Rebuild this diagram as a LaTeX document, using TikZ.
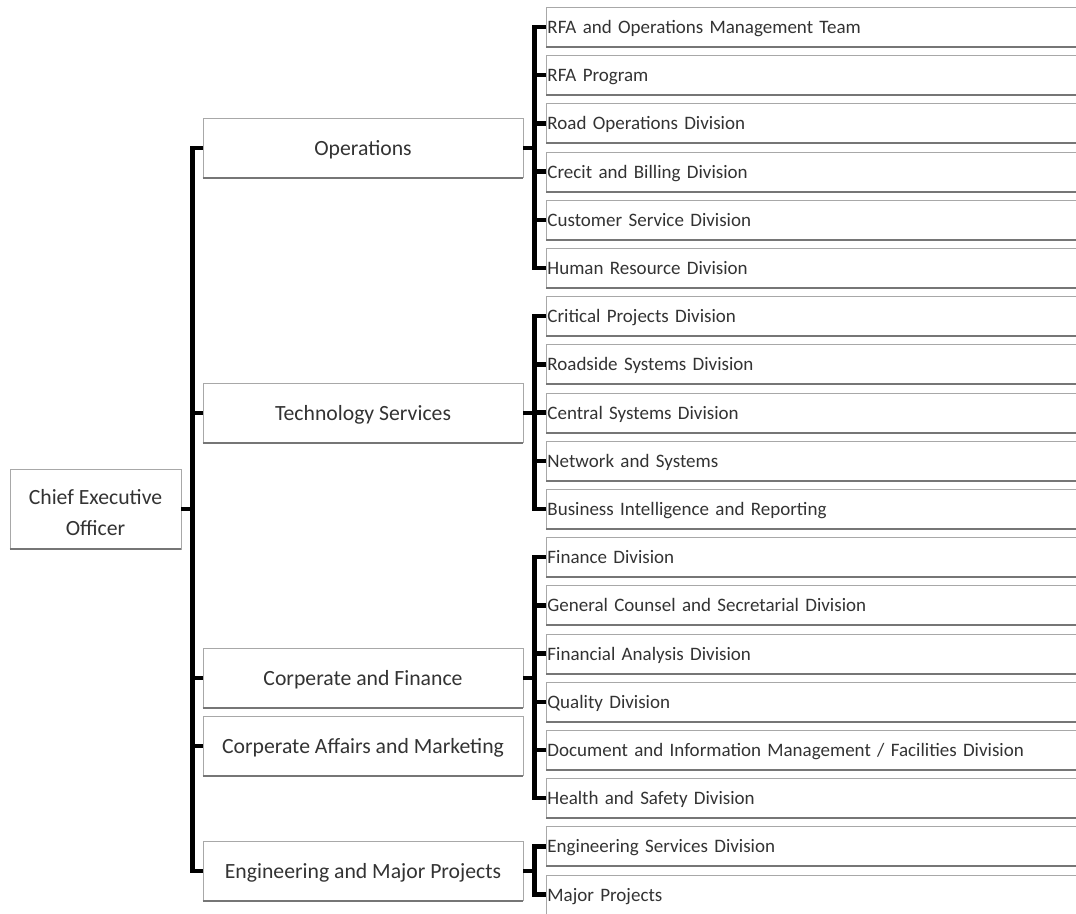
\documentclass[tikz,border=0pt]{standalone}
\usepackage{fontspec}
\setmainfont{Carlito}
\usetikzlibrary{positioning}
\definecolor{boxgray}{HTML}{A8A8A8}
\definecolor{shadegray}{HTML}{767676}
\definecolor{inkgray}{HTML}{333333}
\tikzset{unit/.style={draw=boxgray, line width=0.9pt, fill=white, text=inkgray, minimum width=320pt, minimum height=59pt, inner sep=0pt, text height=18.5pt, text depth=4pt, align=center, font=\fontsize{21.7}{31}\selectfont},
         dept/.style={draw=boxgray, line width=0.9pt, fill=white, text=inkgray, anchor=west, text width=545pt, minimum height=39pt, inner xsep=1pt, inner ysep=0pt, text height=16pt, text depth=3pt, align=left, font=\fontsize{19}{22}\selectfont},
         link/.style={black, line width=4.5pt},
         ledge/.style={draw=shadegray, line width=2pt}}

\begin{document}
\begin{tikzpicture}[x=1pt,y=-1pt]
       \useasboundingbox (0,0) rectangle (1076,913);
       % chief and the five units
       \node[unit, minimum width=171pt, minimum height=80pt, text height=52pt, text depth=0pt] (ceo) at (95.5,509) {Chief Executive\\Officer};
       \node[unit] (ops)  at (363,148) {Operations};
       \node[unit] (tech) at (363,413) {Technology Services};
       \node[unit] (fin)  at (363,678) {Corperate and Finance};
       \node[unit] (mkt)  at (363,746) {Corperate Affairs and Marketing};
       \node[unit] (eng)  at (363,871) {Engineering and Major Projects};
       % divisions, one per row
       \foreach \t [count=\i] in {RFA and Operations Management Team, RFA Program, Road Operations Division,
              Crecit and Billing Division, Customer Service Division, Human Resource Division,
              Critical Projects Division, Roadside Systems Division, Central Systems Division,
              Network and Systems, Business Intelligence and Reporting,
              Finance Division, General Counsel and Secretarial Division, Financial Analysis Division,
              Quality Division, Document and Information Management / Facilities Division,
              Health and Safety Division, Engineering Services Division, Major Projects}
         \node[dept] (d\i) at (546,{27+48.2*(\i-1)}) {\t};
       \foreach \n in {ceo,ops,tech,fin,mkt,eng}
         \draw[ledge] (\n.south west) -- (\n.south east);
       \foreach \i in {1,...,19}
         \draw[ledge] (d\i.south west) -- (d\i.south east);
       % brackets
       \foreach \n in {ops,tech,fin,mkt,eng}
         \draw[link] (ceo.east) -- ++(11,0) |- (\n.west);
       \foreach \i in {1,...,6}
         \draw[link] (ops.east) -- ++(11,0) |- (d\i.west);
       \foreach \i in {7,...,11}
         \draw[link] (tech.east) -- ++(11,0) |- (d\i.west);
       \foreach \i in {12,...,17}
         \draw[link] (fin.east) -- ++(11,0) |- (d\i.west);
       \foreach \i in {18,19}
         \draw[link] (eng.east) -- ++(11,0) |- (d\i.west);
\end{tikzpicture}
\end{document}
